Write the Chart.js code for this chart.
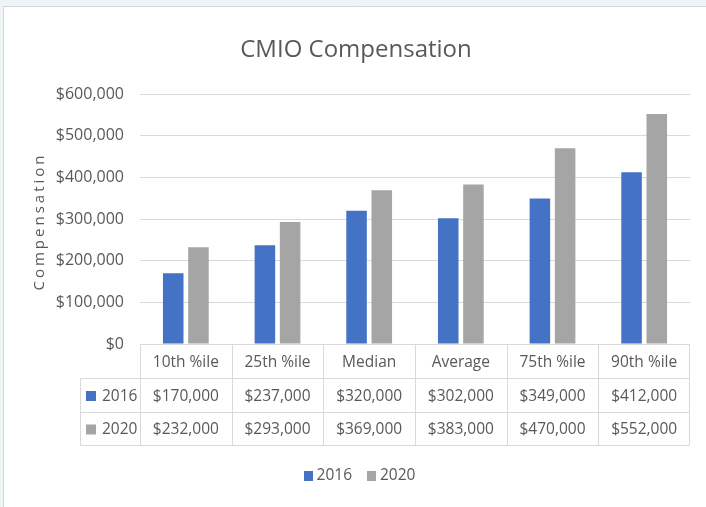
<!DOCTYPE html>
<html><head><meta charset="utf-8">
<script src="https://cdn.jsdelivr.net/npm/chart.js@4.4.1/dist/chart.umd.min.js"></script>
<style>html,body{margin:0;padding:0;background:#eef5f7;overflow:hidden}canvas{display:block}</style>
</head><body>
<canvas id="c" width="706" height="507"></canvas>
<script>
const chartTitle = 'CMIO Compensation';
const yAxisTitle = 'Compensation';
const categories = ['10th %ile', '25th %ile', 'Median', 'Average', '75th %ile', '90th %ile'];
const seriesNames = ['2016', '2020'];
const values2016 = [170000, 237000, 320000, 302000, 349000, 412000];
const values2020 = [232000, 293000, 369000, 383000, 470000, 552000];
const yMin = 0, yMax = 600000, yStep = 100000;
const seriesColors = ['#4472C4', '#A5A5A5'];

const FONT = '"Open Sans", sans-serif';
const TXT = '#595959';
const GRID = '#d9d9d9';
const fmt = v => '$' + v.toLocaleString('en-US');

const decor = {
  id: 'decor',
  beforeDraw(chart) {
    const { ctx, width, height } = chart;
    ctx.save();
    ctx.fillStyle = '#eef5f7';
    ctx.fillRect(0, 0, width, height);
    ctx.fillStyle = '#ffffff';
    ctx.fillRect(4, 7, width - 4, height - 7);
    ctx.strokeStyle = '#d6d6d6';
    ctx.lineWidth = 1;
    ctx.beginPath();
    ctx.moveTo(3.5, height); ctx.lineTo(3.5, 6.5); ctx.lineTo(width, 6.5);
    ctx.stroke();
    ctx.restore();
  },
  afterDraw(chart) {
    const { ctx, chartArea: a, width } = chart;
    const xs = chart.scales.x;
    const n = categories.length;
    const cw = (a.right - a.left) / n;
    const series = [values2016, values2020];
    ctx.save();
    // title
    ctx.fillStyle = TXT;
    ctx.font = '24px ' + FONT;
    ctx.textAlign = 'center';
    ctx.textBaseline = 'alphabetic';
    ctx.fillText(chartTitle, 356, 57);
    // y axis title
    ctx.save();
    ctx.translate(40, 223);
    ctx.rotate(-Math.PI / 2);
    ctx.font = '15px ' + FONT;
    ctx.letterSpacing = '3px';
    ctx.textAlign = 'center';
    ctx.textBaseline = 'middle';
    ctx.fillText(yAxisTitle, 1.5, 0);
    ctx.restore();

    // data table
    const top = Math.round(a.bottom) + 0.5;
    const rh = 33.5;
    const rows = [top, Math.round(top + rh) + 0.5, Math.round(top + 2 * rh) + 0.5, Math.round(top + 3 * rh) + 0.5];
    rows[1] = Math.floor(top + rh) + 0.5;
    const left0 = Math.round(a.left) - 60 + 0.5;
    const L = Math.round(a.left) + 0.5, R = Math.round(a.right) - 0.5;
    ctx.strokeStyle = GRID;
    ctx.lineWidth = 1;
    ctx.beginPath();
    ctx.moveTo(L, rows[0]); ctx.lineTo(R, rows[0]);
    for (let k = 1; k < 4; k++) { ctx.moveTo(left0, rows[k]); ctx.lineTo(R, rows[k]); }
    for (let i = 0; i <= n; i++) {
      const x = Math.round(a.left + i * cw) + 0.5 - (i === n ? 1 : 0);
      ctx.moveTo(x, rows[0]); ctx.lineTo(x, rows[3]);
    }
    ctx.moveTo(left0, rows[1]); ctx.lineTo(left0, rows[3]);
    ctx.stroke();

    ctx.fillStyle = TXT;
    ctx.textAlign = 'center';
    ctx.textBaseline = 'middle';
    ctx.font = '15.5px ' + FONT;
    categories.forEach((c, i) => {
      ctx.fillText(c, xs.getPixelForValue(i), (rows[0] + rows[1]) / 2 + 1);
    });
    series.forEach((vals, s) => {
      const cy = (rows[s + 1] + rows[s + 2]) / 2 + 1;
      vals.forEach((v, i) => {
        ctx.fillStyle = TXT;
        ctx.fillText(fmt(v), xs.getPixelForValue(i), cy);
      });
      ctx.fillStyle = seriesColors[s];
      ctx.fillRect(left0 + 5.5, cy - 5.5, 10, 10);
      ctx.fillStyle = TXT;
      ctx.textAlign = 'left';
      ctx.fillText(seriesNames[s], left0 + 21.5, cy);
      ctx.textAlign = 'center';
    });

    // bottom legend
    ctx.font = '15.5px ' + FONT;
    const sq = 9, g1 = 4, g2 = 15;
    const widths = seriesNames.map(s => ctx.measureText(s).width);
    const total = seriesNames.length * (sq + g1) + widths.reduce((p, q) => p + q, 0) + g2 * (seriesNames.length - 1);
    let x = 359.5 - total / 2;
    const ly = 476;
    ctx.textAlign = 'left';
    seriesNames.forEach((s, i) => {
      ctx.fillStyle = seriesColors[i];
      ctx.fillRect(Math.round(x), ly - 5, sq, 10);
      x += sq + g1;
      ctx.fillStyle = TXT;
      ctx.fillText(s, x, ly);
      x += widths[i] + g2;
    });
    ctx.restore();
  }
};

new Chart(document.getElementById('c'), {
  type: 'bar',
  data: {
    labels: categories,
    datasets: [
      { label: seriesNames[0], data: values2016, backgroundColor: seriesColors[0] },
      { label: seriesNames[1], data: values2020, backgroundColor: seriesColors[1] }
    ]
  },
  options: {
    responsive: false,
    devicePixelRatio: 1,
    animation: false,
    layout: { padding: { top: 94, right: 16, bottom: 163, left: 0 } },
    datasets: { bar: { categoryPercentage: 0.55, barPercentage: 0.815, borderWidth: 0 } },
    plugins: {
      legend: { display: false },
      title: { display: false },
      tooltip: { enabled: false }
    },
    scales: {
      x: { display: false },
      y: {
        min: yMin, max: yMax,
        afterFit: s => { s.width = 140; },
        border: { display: false },
        grid: { color: GRID, lineWidth: 1, drawTicks: false },
        ticks: {
          stepSize: yStep,
          padding: 16,
          color: TXT,
          font: { family: FONT, size: 16 },
          callback: v => fmt(v)
        }
      }
    }
  },
  plugins: [decor]
});
</script>
</body></html>
